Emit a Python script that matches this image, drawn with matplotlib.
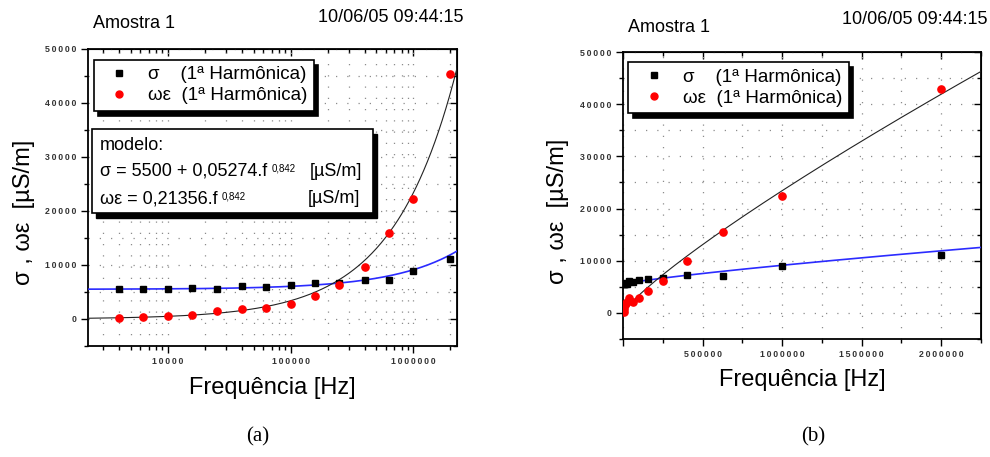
import numpy as np
import matplotlib
matplotlib.use("Agg")
import matplotlib.pyplot as plt
from matplotlib.ticker import MultipleLocator, FuncFormatter, LogLocator, NullFormatter
from matplotlib.lines import Line2D
from matplotlib.patches import Rectangle

plt.rcParams['font.family'] = ['Liberation Sans', 'DejaVu Sans']

# measured points (1st harmonic)
freq = [4000, 6300, 10000, 15800, 25000, 40000, 63000, 100000, 158000,
        250000, 400000, 630000, 1000000, 2000000]
sigma = [5500, 5630, 5630, 5700, 5570, 6140, 6010, 6330, 6580,
         6650, 7280, 7150, 8920, 11140]
# omega*epsilon as plotted in (a) and in (b)
we_a = [250, 380, 500, 700, 1460, 1840, 1960, 2780, 4240,
        6330, 9680, 15890, 22200, 45400]
we_b = [150, 800, 1500, 1900, 2100, 2800, 2000, 2820, 4170,
        6090, 10000, 15580, 22430, 42900]

# fitted model curves (as drawn)
sig0, sig_a, sig_b = 5500, 0.0436, 0.82
we_a_coef, we_b_exp = 0.21356, 0.84

leg_labels = [u"\u03c3    (1\u00aa Harm\u00f4nica)", u"\u03c9\u03b5  (1\u00aa Harm\u00f4nica)"]
ylab = u"\u03c3 , \u03c9\u03b5  [\u00b5S/m]"
xlab = u"Frequ\u00eancia [Hz]"

fig = plt.figure(figsize=(9.9, 4.57), dpi=100)
W, H = 990.0, 457.0


def px_axes(l, t, r, b):
    return fig.add_axes([l / W, 1 - b / H, (r - l) / W, (b - t) / H])


def spaced(v, p):
    # small tick labels with wide letter spacing
    return u"\u2009".join("%d" % v)


def style_axes(ax):
    for s in ax.spines.values():
        s.set_linewidth(1.3)
    ax.set_ylim(-5000, 50000)
    ax.yaxis.set_major_locator(MultipleLocator(10000))
    ax.yaxis.set_minor_locator(MultipleLocator(5000))
    ax.tick_params(which='both', direction='out', labelsize=6.3, width=1,
                   colors='black', labelcolor='#333333')
    ax.tick_params(which='major', length=5)
    ax.tick_params(which='minor', length=3)
    ax.tick_params(axis='x', pad=3)
    for lab in ax.get_xticklabels() + ax.get_yticklabels():
        lab.set_fontweight('bold')
    ax.grid(which='both', color='#8c8c8c', linestyle=(0, (1, 8)), lw=0.9)
    ax.set_axisbelow(True)
    top = ax.secondary_xaxis('top')
    top.tick_params(which='both', direction='in', labeltop=False, width=1)
    top.tick_params(which='major', length=5)
    top.tick_params(which='minor', length=3)
    right = ax.secondary_yaxis('right')
    right.yaxis.set_major_locator(MultipleLocator(10000))
    right.yaxis.set_minor_locator(MultipleLocator(5000))
    right.tick_params(which='both', direction='in', labelright=False, width=1)
    right.tick_params(which='major', length=5)
    right.tick_params(which='minor', length=3)
    return top


def add_legend(ax, anchor):
    handles = [Line2D([], [], ls='none', marker='s', color='black', ms=5),
               Line2D([], [], ls='none', marker='o', color='red', ms=5)]
    leg = ax.legend(handles, leg_labels, loc='upper left', bbox_to_anchor=anchor,
                    borderaxespad=0, fontsize=13.5, fancybox=False,
                    edgecolor='black', framealpha=1, handlelength=2.0,
                    handletextpad=0.55, borderpad=0.35, labelspacing=0.2,
                    shadow={'ox': 3, 'oy': -3.5, 'color': 'black', 'alpha': 1})
    leg.get_frame().set_linewidth(1.2)
    leg.set_zorder(10)


fmt = FuncFormatter(spaced)

# ---- (a) log frequency axis
ax1 = px_axes(88, 49, 457, 346)
ax1.set_xscale('log')
ax1.set_xlim(2250, 2.26e6)
ax1.xaxis.set_major_locator(LogLocator(10))
ax1.xaxis.set_minor_locator(LogLocator(10, subs=np.arange(2, 10)))
ax1.xaxis.set_major_formatter(fmt)
ax1.xaxis.set_minor_formatter(NullFormatter())
ax1.yaxis.set_major_formatter(fmt)
style_axes(ax1)

f1 = np.logspace(np.log10(2250), np.log10(2.26e6), 400)
ax1.plot(f1, sig0 + sig_a * f1 ** sig_b, color='#2b2bff', lw=1.2, zorder=3)
ax1.plot(f1, we_a_coef * f1 ** we_b_exp, color='#222222', lw=0.8, zorder=3)
ax1.plot(freq, sigma, 's', color='black', ms=5, zorder=4)
ax1.plot(freq, we_a, 'o', color='red', ms=5.2, zorder=4)
add_legend(ax1, (0.016, 0.964))

# model box
bx, by, bw, bh = 0.011, 0.448, 0.761, 0.283
ax1.add_patch(Rectangle((bx + 0.012, by - 0.016), bw, bh, transform=ax1.transAxes,
                        facecolor='black', edgecolor='black', zorder=9))
ax1.add_patch(Rectangle((bx, by), bw, bh, transform=ax1.transAxes,
                        facecolor='white', edgecolor='black', lw=1.2, zorder=9))
ax1.text(0.032, 0.675, "modelo:", transform=ax1.transAxes, fontsize=13,
         va='center', zorder=11)
t1 = ax1.text(0.032, 0.588, u"\u03c3 = 5500 + 0,05274.f", transform=ax1.transAxes,
              fontsize=13, va='center', zorder=11)
ax1.annotate("0,842", xy=(1, 1), xycoords=t1, xytext=(3, -0.5),
             textcoords='offset points', fontsize=7, va='top', zorder=11)
ax1.text(0.60, 0.588, u"[\u00b5S/m]", transform=ax1.transAxes, fontsize=13,
         va='center', zorder=11)
t2 = ax1.text(0.032, 0.495, u"\u03c9\u03b5 = 0,21356.f", transform=ax1.transAxes,
              fontsize=13, va='center', zorder=11)
ax1.annotate("0,842", xy=(1, 1), xycoords=t2, xytext=(3, -0.5),
             textcoords='offset points', fontsize=7, va='top', zorder=11)
ax1.text(0.595, 0.495, u"[\u00b5S/m]", transform=ax1.transAxes, fontsize=13,
         va='center', zorder=11)

# ---- (b) linear frequency axis
ax2 = px_axes(623, 52, 981, 339)
ax2.set_xlim(0, 2.25e6)
ax2.xaxis.set_major_locator(MultipleLocator(500000))
ax2.xaxis.set_minor_locator(MultipleLocator(250000))
ax2.xaxis.set_major_formatter(FuncFormatter(lambda v, p: "" if v == 0 else spaced(v, p)))
ax2.yaxis.set_major_formatter(fmt)
top2 = style_axes(ax2)
top2.xaxis.set_major_locator(MultipleLocator(500000))
top2.xaxis.set_minor_locator(MultipleLocator(250000))

f2 = np.linspace(4000, 2.25e6, 400)
ax2.plot(f2, sig0 + sig_a * f2 ** sig_b, color='#2b2bff', lw=1.2, zorder=3)
ax2.plot(f2, we_a_coef * f2 ** we_b_exp, color='#222222', lw=0.8, zorder=3)
ax2.plot(freq, sigma, 's', color='black', ms=5, zorder=4)
ax2.plot(freq, we_b, 'o', color='red', ms=5.2, zorder=4)
add_legend(ax2, (0.015, 0.964))

# ---- figure texts
fig.text(93 / W, 1 - 23 / H, "Amostra 1", fontsize=13, va='center', ha='left')
fig.text(464 / W, 1 - 17 / H, "10/06/05 09:44:15", fontsize=13, va='center', ha='right')
fig.text(628 / W, 1 - 27 / H, "Amostra 1", fontsize=13, va='center', ha='left')
fig.text(988 / W, 1 - 20 / H, "10/06/05 09:44:15", fontsize=13, va='center', ha='right')

fig.text(24 / W, 1 - 212 / H, ylab, rotation=90, fontsize=17, va='center', ha='center')
fig.text(558 / W, 1 - 211 / H, ylab, rotation=90, fontsize=17, va='center', ha='center')
fig.text(272 / W, 1 - 388 / H, xlab, fontsize=17, va='center', ha='center')
fig.text(802 / W, 1 - 380 / H, xlab, fontsize=17, va='center', ha='center')

fig.text(258 / W, 1 - 437 / H, "(a)", family='Liberation Serif', fontsize=15, va='center', ha='center')
fig.text(813 / W, 1 - 437 / H, "(b)", family='Liberation Serif', fontsize=15, va='center', ha='center')

fig.savefig("out.png", dpi=100)
